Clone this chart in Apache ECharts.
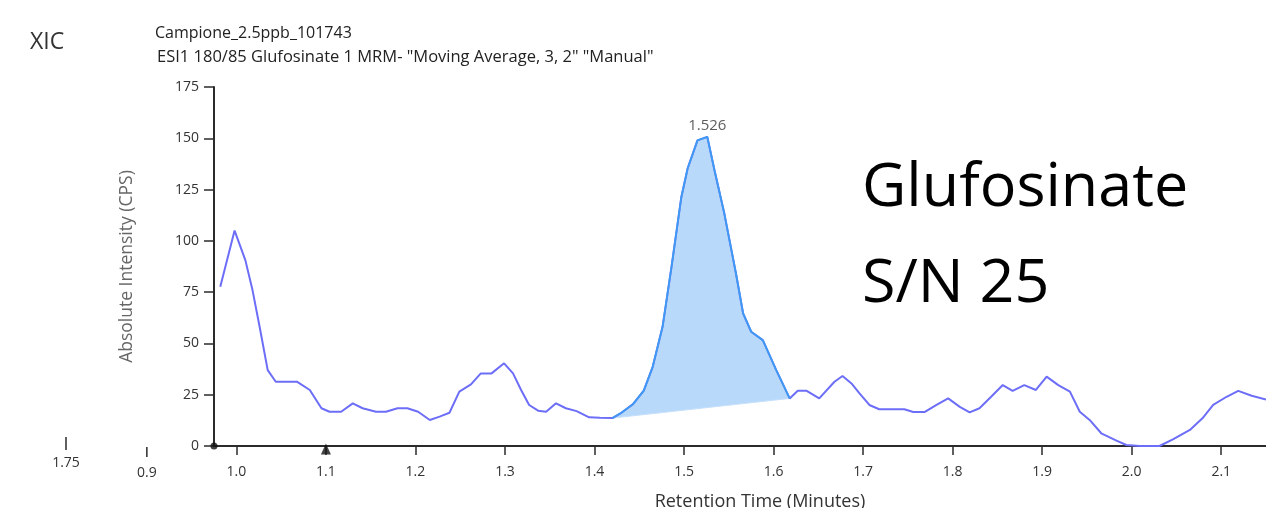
<!DOCTYPE html>
<html>
<head>
<meta charset="utf-8">
<script src="https://cdn.jsdelivr.net/npm/echarts@6/dist/echarts.min.js"></script>
<style>
  html, body { margin: 0; padding: 0; background: #fff; overflow: hidden; }
  #chart { width: 1266px; height: 508px; }
</style>
</head>
<body>
<div id="chart"></div>
<script>
// Extracted ion chromatogram, Glufosinate MRM 180/85
const retentionTime = [
  0.982, 0.998, 1.010, 1.018, 1.026, 1.035, 1.044, 1.056, 1.068, 1.082,
  1.095, 1.104, 1.117, 1.130, 1.141, 1.156, 1.167, 1.180, 1.191, 1.203,
  1.216, 1.227, 1.238, 1.249, 1.262, 1.273, 1.285, 1.299, 1.309, 1.318,
  1.327, 1.337, 1.346, 1.357, 1.368, 1.380, 1.394, 1.406, 1.420, 1.430,
  1.443, 1.455, 1.465, 1.476, 1.486, 1.497, 1.504, 1.515, 1.526, 1.534,
  1.545, 1.558, 1.566, 1.575, 1.588, 1.603, 1.618, 1.627, 1.637, 1.651,
  1.668, 1.677, 1.687, 1.696, 1.707, 1.718, 1.733, 1.746, 1.756, 1.769,
  1.782, 1.795, 1.808, 1.819, 1.830, 1.843, 1.856, 1.867, 1.880, 1.893,
  1.905, 1.918, 1.931, 1.942, 1.953, 1.966, 1.983, 1.994, 2.009, 2.031,
  2.046, 2.065, 2.079, 2.091, 2.106, 2.119, 2.134, 2.150
];
const intensity = [
  77.6, 105.0, 90.6, 76.0, 58.0, 37.0, 31.3, 31.3, 31.3, 27.3,
  18.4, 16.7, 16.7, 20.8, 18.4, 16.7, 16.7, 18.4, 18.4, 16.7,
  12.7, 14.3, 16.2, 26.5, 30.0, 35.4, 35.4, 40.3, 35.4, 27.3,
  20.0, 17.2, 16.7, 20.8, 18.4, 17.0, 14.0, 13.8, 13.6, 16.2,
  20.4, 27.0, 38.6, 58.1, 87.3, 121.4, 135.3, 149.0, 150.7, 134.4,
  113.3, 84.1, 64.6, 55.7, 51.6, 37.0, 23.2, 26.9, 26.9, 23.2,
  31.3, 34.1, 30.5, 25.7, 20.0, 17.9, 17.9, 17.9, 16.6, 16.6,
  20.0, 23.2, 19.1, 16.4, 18.4, 24.0, 29.7, 26.9, 29.7, 27.3,
  33.8, 29.7, 26.5, 16.7, 12.7, 6.2, 2.6, 0.5, 0.0, 0.0,
  3.2, 7.8, 13.5, 20.0, 24.0, 26.9, 24.5, 22.7
];

// Integrated peak: start / end retention times and apex
const peakStart = 1.420;
const peakEnd = 1.618;
const peakApex = 1.526;

// Axis ticks
const xTicks = [1.0, 1.1, 1.2, 1.3, 1.4, 1.5, 1.6, 1.7, 1.8, 1.9, 2.0, 2.1];
const yTicks = [0, 25, 50, 75, 100, 125, 150, 175];

// Trace markers on the time axis
const axisMarkers = [
  { time: 0.975, symbol: 'circle' },
  { time: 1.1, symbol: 'triangle' }
];

const trace = retentionTime.map((t, i) => [t, intensity[i]]);
const peakPoints = trace.filter(p => p[0] >= peakStart - 1e-9 && p[0] <= peakEnd + 1e-9);
const apexPoint = trace.find(p => Math.abs(p[0] - peakApex) < 1e-9);

const FONT = '"Open Sans", "DejaVu Sans", sans-serif';
const AXIS_COLOR = '#2b2b2b';
const TEXT_COLOR = '#333';

const chart = echarts.init(document.getElementById('chart'), null, { renderer: 'canvas' });

const option = {
  animation: false,
  backgroundColor: '#fff',
  grid: { left: 214, right: 0, top: 87, height: 359, containLabel: false, outerBoundsMode: 'none' },
  xAxis: {
    type: 'value',
    min: 0.975,
    max: 2.15,
    name: 'Retention Time (Minutes)',
    nameLocation: 'middle',
    nameGap: 47,
    nameTextStyle: { fontFamily: FONT, fontSize: 18, color: TEXT_COLOR, padding: [0, 0, 0, 40] },
    axisLine: { show: true, onZero: false, lineStyle: { color: AXIS_COLOR, width: 2 } },
    axisTick: { show: true, inside: false, length: 9, customValues: xTicks, lineStyle: { color: AXIS_COLOR, width: 1.5 } },
    axisLabel: {
      customValues: xTicks, margin: 19, fontFamily: FONT, fontSize: 14, color: TEXT_COLOR,
      formatter: v => v.toFixed(1)
    },
    splitLine: { show: false }
  },
  yAxis: {
    type: 'value',
    min: yTicks[0],
    max: yTicks[yTicks.length - 1],
    interval: 25,
    name: 'Absolute Intensity (CPS)',
    nameLocation: 'middle',
    nameGap: 78,
    nameRotate: 90,
    nameTextStyle: { fontFamily: FONT, fontSize: 17.5, color: '#666' },
    axisLine: { show: true, lineStyle: { color: AXIS_COLOR, width: 2 } },
    axisTick: { show: true, length: 10, lineStyle: { color: AXIS_COLOR, width: 1.5 } },
    axisLabel: { margin: 15, fontFamily: FONT, fontSize: 14, color: TEXT_COLOR },
    splitLine: { show: false }
  },
  series: [
    {
      // shaded integration area: peak trace closed by the straight baseline
      type: 'custom',
      name: 'peakArea',
      silent: true,
      z: 1,
      data: [0],
      renderItem: function (params, api) {
        const pts = peakPoints.map(p => api.coord(p));
        return {
          type: 'polygon',
          shape: { points: pts },
          style: { fill: '#b9d9fa', stroke: '#c6e0fb', lineWidth: 1 }
        };
      }
    },
    {
      type: 'line',
      name: 'XIC',
      data: trace,
      showSymbol: false,
      smooth: false,
      z: 2,
      lineStyle: { color: '#6d6ef7', width: 2 }
    },
    {
      type: 'line',
      name: 'peak',
      data: peakPoints,
      showSymbol: false,
      z: 3,
      lineStyle: { color: '#3d9bf3', width: 1.8 }
    },
    {
      // apex retention time label
      type: 'scatter',
      data: [apexPoint],
      symbolSize: 0,
      z: 4,
      label: {
        show: true,
        position: 'top',
        distance: 4,
        fontFamily: FONT,
        fontSize: 15,
        color: TEXT_COLOR,
        formatter: p => p.value[0].toFixed(3)
      }
    },
    {
      type: 'scatter',
      clip: false,
      z: 5,
      data: axisMarkers.map(m => ({
        value: [m.time, 0],
        symbol: m.symbol,
        symbolSize: m.symbol === 'circle' ? 7 : [10, 11],
        symbolOffset: m.symbol === 'circle' ? [0, 0] : [0, 3]
      })),
      itemStyle: { color: '#111' }
    }
  ]
};

chart.setOption(option);

// Extra scale mark left of the plotted range and the annotation texts
const x09 = chart.convertToPixel({ xAxisIndex: 0 }, 0.9);
const yBase = chart.convertToPixel({ yAxisIndex: 0 }, 0);

chart.setOption({
  graphic: [
    { type: 'line', shape: { x1: x09, y1: yBase + 1, x2: x09, y2: yBase + 11 }, style: { stroke: AXIS_COLOR, lineWidth: 1.5 } },
    { type: 'text', x: x09, y: yBase + 27, style: { text: '0.9', font: '14px ' + FONT, fill: TEXT_COLOR, align: 'center', verticalAlign: 'middle' } },
    { type: 'line', shape: { x1: 66, y1: yBase - 9, x2: 66, y2: yBase + 4 }, style: { stroke: AXIS_COLOR, lineWidth: 1.5 } },
    { type: 'text', x: 66, y: yBase + 17, style: { text: '1.75', font: '14px ' + FONT, fill: TEXT_COLOR, align: 'center', verticalAlign: 'middle' } },

    { type: 'text', x: 30, y: 42, style: { text: 'XIC', font: '23px ' + FONT, fill: '#333', align: 'left', verticalAlign: 'middle' } },
    { type: 'text', x: 155, y: 33, style: { text: 'Campione_2.5ppb_101743', font: '16px ' + FONT, fill: '#222', align: 'left', verticalAlign: 'middle' } },
    { type: 'text', x: 157, y: 57, style: { text: 'ESI1 180/85 Glufosinate 1 MRM- "Moving Average, 3, 2" "Manual"', font: '16.5px ' + FONT, fill: '#222', align: 'left', verticalAlign: 'middle' } },

    { type: 'text', x: 862, y: 189, style: { text: 'Glufosinate', font: '61px ' + FONT, fill: '#000', align: 'left', verticalAlign: 'middle' } },
    { type: 'text', x: 862, y: 285, style: { text: 'S/N 25', font: '61px ' + FONT, fill: '#000', align: 'left', verticalAlign: 'middle' } }
  ]
});
</script>
</body>
</html>
